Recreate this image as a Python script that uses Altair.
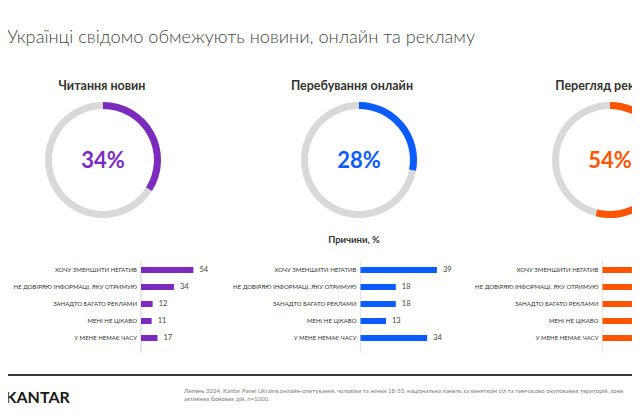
import math
import altair as alt
import pandas as pd

# ---------------- data ----------------
main_title = "Українці свідомо обмежують новини, онлайн та рекламу"
panel_titles = ["Читання новин", "Перебування онлайн", "Перегляд реклами"]
shares = [34, 28, 54]
panel_colors = ["#7b2cbf", "#0a5cff", "#ff5500"]
reasons_title = "Причини, %"
reasons = [
    "ХОЧУ ЗМЕНШИТИ НЕГАТИВ",
    "НЕ ДОВІРЯЮ ІНФОРМАЦІ, ЯКУ ОТРИМУЮ",
    "ЗАНАДТО БАГАТО РЕКЛАМИ",
    "МЕНІ НЕ ЦІКАВО",
    "У МЕНЕ НЕМАЄ ЧАСУ",
]
news_reasons = [54, 34, 12, 11, 17]
online_reasons = [39, 18, 18, 13, 34]
ads_reasons = [15, 19, 40, 35, 30]
footer_lines = [
    "Липень 2024. Kantar Panel Ukraine,онлайн-опитування, чоловіки та жінки 18-55, національна панель за винятком сіл та тимчасово окупованих територій, зони",
    "активних бойових дій. n=1000.",
]
brand = "KANTAR"

# ---------------- layout ----------------
OFF = 8  # page margin
W, H = 624, 396
donut_cx = [103, 359, 610]
donut_cy = 160
title_cx = [102, 352, 610]
bar_x0 = [141, 360.5, 602.5]
px_per_unit = [0.97, 1.96, 1.96]
rows_top, rows_bottom = 261.5, 346.5
FONT = "Lato"

def P(v):
    return v - OFF

layers = []

# main title
layers.append(
    alt.Chart(pd.DataFrame({"t": [main_title]}))
    .mark_text(align="left", baseline="alphabetic", font=FONT, fontSize=18.2,
               fontWeight=300, color="#454545")
    .encode(x=alt.value(P(7)), y=alt.value(P(43)), text="t:N")
)

theta_scale = alt.Scale(domain=[0, 100], range=[0, 2 * math.pi])
series = [news_reasons, online_reasons, ads_reasons]

for i in range(3):
    # panel title
    layers.append(
        alt.Chart(pd.DataFrame({"t": [panel_titles[i]]}))
        .mark_text(align="center", baseline="alphabetic", font=FONT, fontSize=12.5,
                   fontWeight=700, color="#333333")
        .encode(x=alt.value(P(title_cx[i])), y=alt.value(P(89.5)), text="t:N")
    )
    # ring background
    ring = pd.DataFrame({"t0": [0], "t1": [100]})
    layers.append(
        alt.Chart(ring)
        .mark_arc(radius=58, radius2=51, color="#d9d9d9")
        .encode(
            theta=alt.Theta("t0:Q", scale=theta_scale, stack=None),
            theta2="t1:Q",
            x=alt.value(P(donut_cx[i])),
            y=alt.value(P(donut_cy)),
        )
    )
    # share arc
    arc = pd.DataFrame({"t0": [0], "t1": [shares[i]], "lab": [f"{shares[i]}%"]})
    layers.append(
        alt.Chart(arc)
        .mark_arc(radius=58, radius2=51, color=panel_colors[i])
        .encode(
            theta=alt.Theta("t0:Q", scale=theta_scale, stack=None),
            theta2="t1:Q",
            x=alt.value(P(donut_cx[i])),
            y=alt.value(P(donut_cy)),
        )
    )
    layers.append(
        alt.Chart(arc)
        .mark_text(align="center", baseline="middle", font=FONT, fontSize=22,
                   fontWeight=700, color=panel_colors[i])
        .encode(x=alt.value(P(donut_cx[i])), y=alt.value(P(donut_cy + 1)), text="lab:N")
    )

    # reasons bars
    df = pd.DataFrame({"reason": reasons, "v": series[i]})
    xs = alt.Scale(domain=[0, 100], range=[P(bar_x0[i]), P(bar_x0[i] + 100 * px_per_unit[i])])
    ys = alt.Scale(domain=reasons, range=[P(rows_top), P(rows_bottom)],
                   paddingInner=0, paddingOuter=0)
    base = alt.Chart(df)
    bars = base.mark_bar(height=6, color=panel_colors[i]).encode(
        x=alt.X("v:Q", scale=xs, axis=None),
        y=alt.Y("reason:N", scale=ys, axis=None, sort=reasons),
    )
    vals = base.mark_text(align="left", baseline="middle", dx=6, font=FONT,
                          fontSize=7.5, color="#444444").encode(
        x=alt.X("v:Q", scale=xs, axis=None),
        y=alt.Y("reason:N", scale=ys, axis=None, sort=reasons),
        text="v:Q",
    )
    labs = base.mark_text(align="right", baseline="middle", font=FONT,
                          fontSize=6.0, color="#333333").encode(
        x=alt.value(P(bar_x0[i] - 4)),
        y=alt.Y("reason:N", scale=ys, axis=None, sort=reasons),
        text="reason:N",
    )
    axis_line = base.mark_rule(color="#e6e6e6", strokeWidth=0.8).encode(
        x=alt.value(P(bar_x0[i])),
        y=alt.value(P(rows_top)),
        y2=alt.value(P(rows_bottom + 6)),
    )
    layers.append(alt.layer(axis_line, bars, vals, labs))

# reasons title
layers.append(
    alt.Chart(pd.DataFrame({"t": [reasons_title]}))
    .mark_text(align="center", baseline="alphabetic", font=FONT, fontSize=9.5,
               fontWeight=700, color="#333333")
    .encode(x=alt.value(P(354)), y=alt.value(P(242.5)), text="t:N")
)

# footer
layers.append(
    alt.Chart(pd.DataFrame({"a": [0]}))
    .mark_rule(color="#3a3a3a", strokeWidth=2)
    .encode(x=alt.value(P(6)), x2=alt.value(P(640)), y=alt.value(P(375)))
)
layers.append(
    alt.Chart(pd.DataFrame({"t": [brand]}))
    .mark_text(align="left", baseline="alphabetic", font=FONT, fontSize=16,
               fontWeight=700, color="#1a1a1a")
    .encode(x=alt.value(P(5.5)), y=alt.value(P(403)), text="t:N")
)
layers.append(
    alt.Chart(pd.DataFrame({"a": [0]}))
    .mark_rule(color="#e0b000", strokeWidth=2.2)
    .encode(x=alt.value(P(7.2)), y=alt.value(P(391.5)), y2=alt.value(P(403)))
)
layers.append(
    alt.Chart(pd.DataFrame({"a": [0]}))
    .mark_text(align="left", baseline="alphabetic", font=FONT, fontSize=6.0,
               lineHeight=8, color="#7a7a7a")
    .encode(x=alt.value(P(184)), y=alt.value(P(393)), text=alt.value(footer_lines))
)

chart = (
    alt.layer(*layers)
    .resolve_scale(x="independent", y="independent")
    .properties(width=W, height=H, autosize="none", padding=0)
    .configure_view(stroke=None)
)

chart.save("out.html", embed_options={"renderer": "svg", "actions": False})
